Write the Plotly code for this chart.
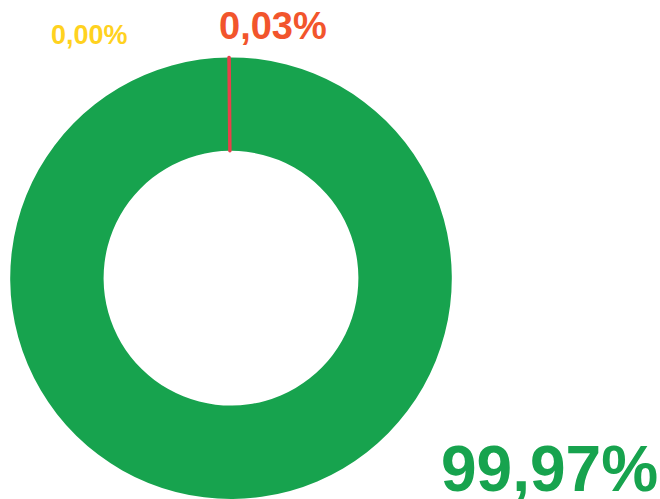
import plotly.graph_objects as go

labels = ["Green", "Yellow", "Red"]
values = [99.97, 0.00, 0.03]
label_texts = ["99,97%", "0,00%", "0,03%"]
slice_colors = ["#17A34E", "#FFD21F", "#E8404A"]
text_colors = ["#17A34E", "#FFD21F", "#F2552C"]

W, H = 660, 499

fig = go.Figure()
fig.add_trace(go.Pie(
    labels=labels,
    values=values,
    hole=0.577,
    sort=False,
    direction="clockwise",
    rotation=-0.45,
    textinfo="none",
    hoverinfo="none",
    showlegend=False,
    marker=dict(colors=slice_colors,
                line=dict(color=slice_colors, width=[0, 0, 3.2])),
    domain=dict(x=[10.2 / W, 451.8 / W], y=[0, 0.885]),
))

# label positions (pixel centers) and sizes
ann_pos = [(549, 468.5, 64), (89, 34.5, 27), (273, 26, 38)]
for txt, col, (px, py, fs) in zip(label_texts, text_colors, ann_pos):
    fig.add_annotation(
        text=txt, x=px / W, y=1 - py / H, xref="paper", yref="paper",
        xanchor="center", yanchor="middle", showarrow=False,
        font=dict(family="Liberation Sans, Arial, sans-serif", size=fs,
                  color=col, weight="bold"),
    )

fig.update_layout(
    width=W, height=H,
    margin=dict(l=0, r=0, t=0, b=0),
    paper_bgcolor="white",
    plot_bgcolor="white",
)

fig.write_html("out.html")
